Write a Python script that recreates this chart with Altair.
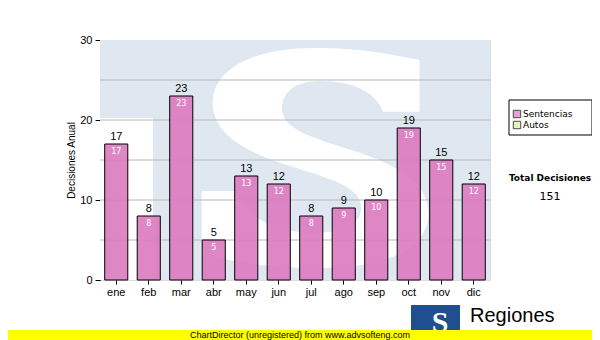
import altair as alt
import pandas as pd

months = ["ene", "feb", "mar", "abr", "may", "jun", "jul", "ago", "sep", "oct", "nov", "dic"]
sentencias = [17, 8, 23, 5, 13, 12, 8, 9, 10, 19, 15, 12]
grid_values = [5, 10, 15, 20, 25]
legend_labels = ["Sentencias", "Autos"]
legend_colors = ["#dc7cc0", "#d9f0a3"]
total_label = "Total Decisiones"
total_value = str(sum(sentencias))
footer_text = "ChartDirector (unregistered) from www.advsofteng.com"
logo_text = "Regiones"

# decorative watermark glyph outline (unit box)
S_PATH = ("M 0.95 -0.89 L 0.95 -0.42 L 0.62 -0.42 "
          "C 0.55 -0.6 0.35 -0.7 0.05 -0.7 C -0.18 -0.7 -0.3 -0.6 -0.3 -0.45 "
          "C -0.3 -0.25 0 -0.18 0.4 -0.05 C 0.85 0.1 1.03 0.28 1.03 0.5 "
          "C 1.03 0.85 0.6 1 0.05 1 C -0.4 1 -0.7 0.95 -1.03 0.88 "
          "L -1.03 0.3 L -0.72 0.3 "
          "C -0.62 0.55 -0.35 0.68 0 0.68 C 0.3 0.68 0.42 0.58 0.42 0.45 "
          "C 0.42 0.25 0.1 0.18 -0.3 0.05 C -0.75 -0.1 -0.93 -0.28 -0.93 -0.5 "
          "C -0.93 -0.82 -0.55 -1 0 -1 C 0.4 -1 0.65 -0.95 0.95 -0.89 Z")

df = pd.DataFrame({"mes": months, "valor": sentencias})

W, H = 390, 240

yscale = alt.Scale(domain=[0, 30])

x_enc = alt.X("mes:N", sort=months, title=None,
              scale=alt.Scale(paddingInner=0.29, paddingOuter=0.145),
              axis=alt.Axis(labelAngle=0, labelFont="Liberation Sans", labelFontSize=11,
                            labelColor="black", ticks=True, tickSize=4, tickColor="black",
                            domain=False, labelPadding=2))
y_enc = alt.Y("valor:Q", title="Decisiones Anual", scale=yscale,
              axis=alt.Axis(values=[0, 5, 10, 15, 20, 25, 30], labelFont="Liberation Sans",
                            labelFontSize=11, labelColor="black", tickColor="black", tickSize=5,
                            domainColor="black", grid=False,
                            titleFont="Liberation Sans", titleFontSize=10, titleFontWeight="normal",
                            titleColor="black", titlePadding=3, labelPadding=3))

one = pd.DataFrame({"a": [0]})

# watermark
wm_bg = alt.Chart(one).mark_rect(fill="#dfe8f1").encode(
    x=alt.value(0), x2=alt.value(W), y=alt.value(0), y2=alt.value(H))
wm_gap = alt.Chart(one).mark_rect(fill="white").encode(
    x=alt.value(0), x2=alt.value(53), y=alt.value(78), y2=alt.value(H))
wm_s = alt.Chart(one).mark_point(shape=S_PATH, size=48400, filled=True, fill="white",
                                 opacity=1, strokeWidth=0, clip=True).encode(
    x=alt.value(215), y=alt.value(118))

grid_df = pd.DataFrame({"g": grid_values})
grid = alt.Chart(grid_df).mark_rule(color="#b8b8b8", strokeWidth=1).encode(
    y=alt.Y("g:Q", scale=yscale))

base = alt.Chart(df)
bars = base.mark_bar(color=legend_colors[0], stroke="black", strokeWidth=1, fillOpacity=0.92).encode(x=x_enc, y=y_enc)
top_lbl = base.mark_text(baseline="bottom", dy=-2, font="Liberation Sans", fontSize=11, color="black").encode(
    x=alt.X("mes:N", sort=months), y="valor:Q", text="valor:Q")
in_lbl = base.mark_text(baseline="top", dy=4, font="DejaVu Sans", fontSize=8, color="white").encode(
    x=alt.X("mes:N", sort=months), y="valor:Q", text="valor:Q")

# legend box
leg_box = alt.Chart(one).mark_rect(fill="white", stroke="black", strokeWidth=1).encode(
    x=alt.value(409), x2=alt.value(492), y=alt.value(60), y2=alt.value(95))
leg_df = pd.DataFrame({"lab": legend_labels, "col": legend_colors, "ypos": [74, 85]})
leg_sym = alt.Chart(leg_df).mark_square(size=55, stroke="black", strokeWidth=1).encode(
    x=alt.value(417), y=alt.Y("ypos:Q", scale=None), fill=alt.Fill("col:N", scale=None))
leg_txt = alt.Chart(leg_df).mark_text(align="left", baseline="middle", font="DejaVu Sans", fontSize=9, color="black").encode(
    x=alt.value(423), y=alt.Y("ypos:Q", scale=None), text="lab:N")

tot_df = pd.DataFrame({"t": [total_label, total_value], "ypos": [138, 157]})
tot1 = alt.Chart(tot_df.iloc[[0]]).mark_text(font="DejaVu Sans", fontSize=9, fontWeight="bold", color="black").encode(
    x=alt.value(450), y=alt.Y("ypos:Q", scale=None), text="t:N")
tot2 = alt.Chart(tot_df.iloc[[1]]).mark_text(font="DejaVu Sans", fontSize=11, color="black").encode(
    x=alt.value(450), y=alt.Y("ypos:Q", scale=None), text="t:N")

band = alt.Chart(one).mark_rect(fill="#ffff00").encode(
    x=alt.value(-100), x2=alt.value(500), y=alt.value(290), y2=alt.value(300))
band_txt = alt.Chart(pd.DataFrame({"t": [footer_text]})).mark_text(font="Liberation Sans", fontSize=9, color="black", baseline="middle").encode(
    x=alt.value(200), y=alt.value(295), text="t:N")
logo_rect = alt.Chart(one).mark_rect(fill="#1f4f8f").encode(
    x=alt.value(311), x2=alt.value(360), y=alt.value(265), y2=alt.value(300))
logo_s = alt.Chart(pd.DataFrame({"t": ["S"]})).mark_text(font="Liberation Serif", fontSize=30, fontWeight="bold", color="white", baseline="middle").encode(
    x=alt.value(340), y=alt.value(283), text="t:N")
logo_txt = alt.Chart(pd.DataFrame({"t": [logo_text]})).mark_text(font="Liberation Sans", fontSize=20, color="black", align="left", baseline="middle").encode(
    x=alt.value(370), y=alt.value(276), text="t:N")

chart = alt.layer(wm_bg, wm_gap, wm_s, grid, bars, top_lbl, in_lbl, leg_box, leg_sym, leg_txt, tot1, tot2,
                  logo_rect, logo_s, logo_txt, band, band_txt).properties(
    width=W, height=H,
    padding={"left": 92, "top": 32, "right": 102, "bottom": 60},
    autosize=alt.AutoSizeParams(type="none"),
).configure_view(stroke="black", strokeWidth=1).configure(background="white")

chart.save("out.html", embed_options={"renderer": "svg", "actions": False})
